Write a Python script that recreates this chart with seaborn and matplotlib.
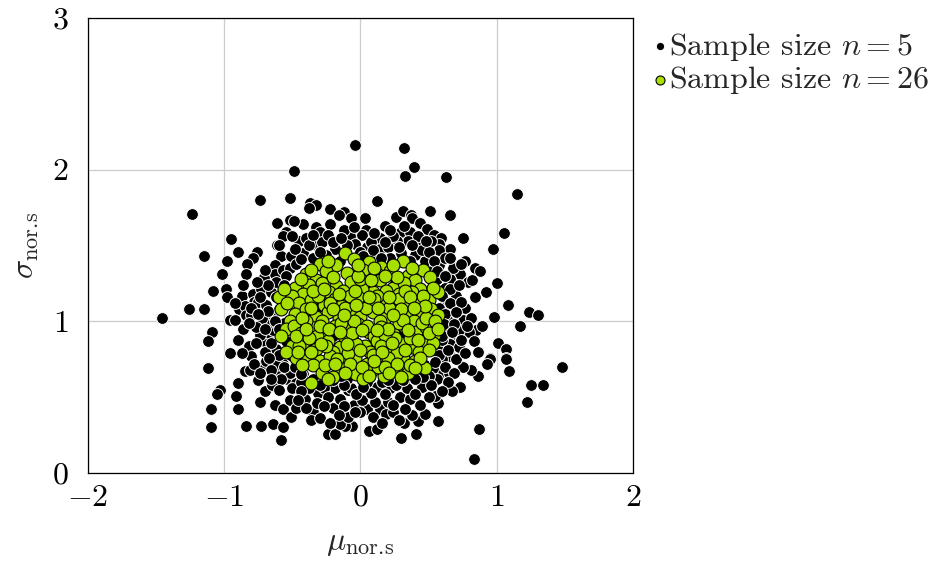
import matplotlib
matplotlib.use("Agg")
import matplotlib.pyplot as plt
import seaborn as sns
import pandas as pd

# ---- data (mu, sigma) ----
black_pts = [
    (-1.46,1.02),(-1.24,1.71),(-1.26,1.08),(-1.15,1.08),(-1.15,1.43),(-1.09,0.93),(-1.12,0.87),(-1.12,0.69),
    (-1.03,0.55),(-1.05,0.52),(-1.10,0.42),(-1.10,0.30),(-0.90,1.46),(-0.76,1.46),(-0.98,1.40),(-0.79,1.42),
    (-0.83,1.38),(-1.02,1.31),(-0.84,1.31),(-0.71,1.29),(-0.61,1.50),(-0.58,1.43),(-0.51,1.43),(-0.63,1.37),
    (-0.63,1.31),(-0.57,1.34),(-0.52,1.35),(-1.08,1.20),(-0.99,1.21),(-0.98,1.16),(-0.87,1.17),(-0.79,1.18),
    (-0.73,1.21),(-0.78,1.13),(-0.75,1.13),(-0.89,1.08),(-0.85,1.10),(-0.84,1.04),(-0.80,1.04),(-0.96,1.01),
    (-0.96,0.79),(-0.82,0.84),(-0.71,0.87),(-0.67,0.92),(-0.64,0.94),(-0.68,0.99),(-0.64,1.04),(-0.69,1.11),
    (-0.66,1.19),(-0.58,1.24),(-0.74,0.91),(-0.55,0.87),(-0.62,0.82),(-0.52,0.78),
    (-0.90,0.59),(-0.91,0.51),(-0.90,0.42),(-0.84,0.31),(-0.73,0.31),(-0.64,0.32),(-0.57,0.30),(-0.58,0.22),
    (-0.85,0.67),(-0.81,0.68),(-0.71,0.72),(-0.75,0.61),(-0.70,0.54),(-0.65,0.58),(-0.74,0.47),(-0.63,0.45),
    (-0.57,0.42),(-0.62,0.65),(-0.52,0.48),(-0.51,0.37),(-0.54,0.62),(-0.57,0.72),(-0.69,0.74),
    (-0.74,1.80),(-0.49,1.99),(-0.52,1.81),(-0.61,1.65),(-0.52,1.67),(-0.55,1.59),(-0.57,1.56),(-0.60,1.50),
    (-0.95,1.54),
    (-0.04,2.16),(0.32,2.14),(0.39,2.02),(0.33,1.96),(0.12,1.79),(-0.37,1.78),(-0.33,1.77),(-0.38,1.75),
    (-0.22,1.74),(-0.12,1.72),(-0.16,1.70),(-0.07,1.68),(0.03,1.68),(0.26,1.69),(0.31,1.73),(0.37,1.70),
    (0.38,1.68),(0.44,1.65),(0.49,1.61),(-0.42,1.64),(-0.49,1.66),(-0.33,1.62),(-0.22,1.64),(-0.30,1.59),
    (0.04,1.60),(0.01,1.57),(-0.08,1.56),(0.14,1.55),(0.30,1.59),(0.36,1.59),(0.35,1.53),(0.27,1.53),
    (0.44,1.51),(-0.45,1.53),(-0.33,1.50),(-0.04,1.51),(0.05,1.49),(0.14,1.48),(0.20,1.49),(-0.19,1.48),
    (0.51,1.73),
    (0.63,1.95),(1.15,1.84),(0.66,1.70),(0.75,1.55),(1.05,1.58),(0.97,1.48),(0.54,1.57),(0.59,1.55),
    (0.58,1.51),(0.66,1.48),(0.52,1.53),
    (0.77,1.40),(0.84,1.35),(0.88,1.33),(0.73,1.31),(0.79,1.26),(0.66,1.28),(1.00,1.25),(0.92,1.19),
    (0.62,1.22),(1.08,1.11),(1.24,1.06),(1.30,1.04),(0.77,1.09),(0.98,1.03),(1.17,0.97),(0.75,1.01),
    (0.68,1.04),(0.85,0.94),(0.80,0.93),(0.83,0.87),(1.01,0.86),(1.07,0.82),(0.95,0.76),(1.07,0.76),
    (0.72,0.94),(0.66,0.90),(0.61,0.94),(0.66,0.77),(0.58,1.37),(0.58,1.47),
    (1.48,0.70),(1.25,0.58),(1.34,0.58),(1.22,0.47),(1.07,0.75),(1.09,0.67),(0.95,0.75),(0.93,0.72),
    (0.86,0.64),(0.81,0.68),(0.75,0.70),(0.73,0.57),(0.67,0.54),(0.57,0.46),(0.57,0.34),(0.87,0.29),
    (0.83,0.09),(0.57,0.82),(0.60,0.75),(0.58,0.65),(0.53,0.69),(0.66,0.85),(0.65,0.66),(0.70,0.75),
    (0.55,0.51),
    (-0.24,0.26),(-0.19,0.26),(-0.06,0.31),(-0.11,0.31),(-0.15,0.32),(0.06,0.28),(0.12,0.29),(0.30,0.23),
    (0.41,0.26),(0.32,0.33),(0.42,0.34),(0.38,0.38),(0.47,0.39),(-0.47,0.43),(-0.35,0.40),(-0.36,0.35),
    (-0.09,0.37),(-0.20,0.43),(-0.05,0.45),(0.05,0.42),(0.14,0.42),(0.20,0.47),(0.11,0.47),(0.29,0.50),
    (0.36,0.49),(0.19,0.39),(-0.41,0.49),(-0.31,0.53),(-0.15,0.49),(0.01,0.48),(-0.09,0.55),(-0.19,0.56),
    (-0.27,0.56),(-0.38,0.56),(-0.47,0.59),(0.12,0.57),(0.22,0.56),(0.45,0.57),(0.36,0.61),(-0.52,0.66),
    (-0.42,0.65),(-0.27,0.64),(-0.20,0.61),(-0.07,0.56),(0.05,0.60),(0.29,0.65),(0.42,0.67),(0.47,0.71),
    (-0.42,1.45),(-0.35,1.42),(-0.25,1.44),(-0.15,1.40),(0.10,1.43),(0.22,1.42),(0.30,1.45),(0.40,1.44),
    (0.47,1.40),(-0.47,1.38),(0.52,1.33),(0.45,1.47),(-0.28,1.52),(0.08,1.52),(0.24,1.56),(-0.12,1.60),
    (-0.40,1.55),(0.18,1.63),(0.42,1.56),(-0.24,1.57),
    (-0.72,1.02),(-0.70,0.80),(-0.60,1.08),(-0.56,0.99),(-0.62,0.71),(-0.77,0.96),(-0.80,0.77),(-0.86,0.95),
    (-0.90,0.88),(-0.66,0.68),
    (0.62,1.12),(0.64,1.00),(0.70,1.17),(0.60,0.88),(0.72,0.83),(0.56,1.28),(0.55,1.20),(0.68,1.35),(0.62,1.42),
    (-0.32,0.46),(0.00,0.40),(0.24,0.40),(-0.45,0.74),(0.18,0.52),(-0.12,0.44),(0.34,0.56),(-0.30,0.70),
    (0.39,0.72),(-0.10,0.62),
    (0.00,1.00),(-0.20,0.90),(0.20,1.10),(0.10,0.80),(-0.10,1.20),(0.30,0.90),(-0.30,1.10),(0.25,1.25),(-0.35,0.85),
    # dense ring, top
    (-0.48,1.48),(-0.38,1.50),(-0.30,1.46),(-0.20,1.52),(-0.10,1.50),(0.00,1.46),(0.09,1.47),(0.18,1.52),
    (0.28,1.49),(0.38,1.50),(0.50,1.46),(-0.44,1.41),(-0.22,1.40),(0.02,1.43),(0.15,1.42),(0.36,1.40),
    (0.54,1.40),(-0.50,1.56),(-0.14,1.55),(0.10,1.58),(0.32,1.63),(-0.35,1.57),(0.48,1.53),(-0.05,1.62),
    (0.22,1.60),
    # dense ring, left
    (-0.55,1.30),(-0.62,1.26),(-0.68,1.24),(-0.56,1.24),(-0.74,1.16),(-0.62,1.16),(-0.56,1.12),(-0.68,1.07),
    (-0.80,1.09),(-0.63,1.00),(-0.75,1.05),(-0.60,0.95),(-0.70,0.95),(-0.82,0.99),(-0.58,0.90),(-0.66,0.86),
    (-0.77,0.86),(-0.60,0.78),(-0.67,0.76),(-0.78,0.72),(-0.56,0.70),(-0.48,0.70),(-0.58,0.62),(-0.66,0.62),
    (-0.50,0.56),(-0.44,0.60),(-0.60,0.55),(-0.74,0.66),(-0.87,0.79),(-0.92,1.01),(-0.92,1.12),(-0.86,1.24),
    (-0.76,1.26),(-0.70,1.34),
    # dense ring, right
    (0.56,1.33),(0.62,1.30),(0.66,1.21),(0.60,1.17),(0.72,1.24),(0.58,1.09),(0.66,1.12),(0.74,1.13),
    (0.62,1.05),(0.70,1.06),(0.81,1.02),(0.61,0.98),(0.69,0.98),(0.78,0.97),(0.60,0.90),(0.67,0.93),
    (0.74,0.88),(0.58,0.78),(0.64,0.81),(0.77,0.79),(0.55,0.73),(0.62,0.70),(0.69,0.66),(0.56,0.62),
    (0.64,0.60),(0.50,0.64),(0.52,0.58),(0.60,0.54),(0.86,0.80),(0.89,0.97),(0.84,1.16),(0.82,1.27),
    (0.74,1.38),(0.66,1.42),
    # dense ring, bottom
    (-0.44,0.54),(-0.35,0.62),(-0.30,0.58),(-0.24,0.50),(-0.12,0.58),(-0.03,0.52),(0.08,0.53),(0.16,0.60),
    (0.26,0.58),(0.31,0.61),(0.40,0.52),(0.46,0.63),(-0.40,0.43),(-0.27,0.44),(-0.04,0.40),(0.09,0.37),
    (0.24,0.45),(0.33,0.42),(0.44,0.45),(-0.16,0.38),(-0.30,0.36),(0.28,0.35),(-0.44,0.65),(0.02,0.57),
    (-0.14,0.64),(0.20,0.61),(0.40,0.62),(-0.46,0.48),(0.50,0.50),(-0.22,0.33),(0.16,0.33),
]

green_pts = [
    (-0.11,1.45),
    (-0.30,1.38),(0.31,1.40),(-0.18,1.37),(0.06,1.39),(0.15,1.36),(-0.05,1.41),
    (-0.40,1.31),(-0.25,1.33),(-0.10,1.32),(0.02,1.34),(0.12,1.31),(0.22,1.33),(0.35,1.30),(0.46,1.34),
    (-0.33,1.27),(0.40,1.27),
    (-0.48,1.22),(-0.38,1.24),(-0.28,1.25),(-0.18,1.23),(-0.07,1.26),(0.05,1.24),(0.14,1.27),(0.24,1.22),
    (0.32,1.25),(0.44,1.21),(0.51,1.29),(-0.52,1.17),(-0.13,1.20),(0.09,1.19),(0.28,1.18),(-0.42,1.18),
    (-0.23,1.19),(0.19,1.20),(0.38,1.19),(0.01,1.21),
    (-0.60,1.16),(-0.50,1.17),(-0.45,1.12),(-0.36,1.14),(-0.27,1.11),(-0.19,1.15),(-0.09,1.13),(-0.02,1.16),
    (0.07,1.12),(0.16,1.14),(0.23,1.11),(0.33,1.13),(0.42,1.12),(0.50,1.14),(0.57,1.19),(-0.31,1.17),
    (0.12,1.17),(0.28,1.15),(-0.14,1.10),(0.46,1.17),
    (-0.58,1.08),(-0.48,1.05),(-0.40,1.08),(-0.33,1.03),(-0.24,1.06),(-0.16,1.02),(-0.07,1.07),(0.00,1.03),
    (0.09,1.06),(0.18,1.02),(0.26,1.07),(0.35,1.04),(0.43,1.07),(0.52,1.08),(0.57,1.04),(-0.52,1.00),
    (-0.11,1.09),(0.04,1.09),(0.21,1.09),(0.39,1.00),(-0.28,1.00),(0.14,1.00),
    (-0.55,0.95),(-0.49,0.97),(-0.44,0.92),(-0.36,0.96),(-0.27,0.93),(-0.19,0.97),(-0.10,0.94),(-0.02,0.98),
    (0.06,0.93),(0.15,0.96),(0.24,0.92),(0.32,0.97),(0.41,0.93),(0.48,0.96),(0.54,0.91),(-0.32,0.90),
    (0.10,0.90),(0.28,0.99),(-0.14,0.99),(0.45,0.99),
    (-0.50,0.84),(-0.42,0.86),(-0.33,0.82),(-0.24,0.87),(-0.15,0.83),(-0.06,0.88),(0.03,0.84),(0.12,0.87),
    (0.20,0.82),(0.29,0.86),(0.38,0.83),(0.46,0.87),(0.53,0.86),(-0.38,0.89),(0.07,0.80),(0.25,0.89),
    (-0.20,0.80),(0.43,0.80),
    (-0.47,0.76),(-0.39,0.78),(-0.30,0.74),(-0.22,0.77),(-0.13,0.73),(-0.04,0.76),(0.05,0.72),(0.14,0.77),
    (0.22,0.73),(0.31,0.76),(0.40,0.74),(0.47,0.69),(-0.35,0.71),(0.09,0.78),(0.27,0.79),(-0.09,0.79),
    (-0.28,0.66),(-0.15,0.69),(-0.03,0.65),(0.08,0.67),(0.17,0.64),(0.26,0.68),(0.35,0.66),(-0.20,0.63),
    (0.02,0.62),(0.13,0.70),
    (-0.36,0.59),
    (-0.05,1.00),(0.05,0.97),(-0.12,0.90),(0.18,0.91),(-0.22,1.12),(0.30,1.08),(-0.03,0.85),(0.10,1.15),
    (-0.30,0.97),(0.36,0.89),(0.00,1.28),(-0.17,0.75),(0.20,0.76),(-0.40,1.00),(0.48,1.02),(-0.08,1.17),
    (0.15,0.84),(-0.25,0.84),(0.33,1.20),(-0.45,0.84),
    (-0.44,1.28),(-0.20,1.29),(-0.02,1.30),(0.08,1.27),(0.27,1.29),(0.18,1.30),
    (-0.24,1.40),(-0.02,1.37),(0.24,1.37),(0.38,1.35),(-0.36,1.34),(0.10,1.35),
    (-0.56,1.21),(-0.35,1.20),(-0.04,1.20),(0.21,1.16),(0.36,1.16),(0.53,1.22),(-0.27,1.21),(0.06,1.16),
    (-0.16,1.18),
    (-0.54,1.12),(-0.43,1.02),(-0.36,1.09),(-0.20,1.08),(-0.03,1.11),(0.13,1.09),(0.31,1.01),(0.47,1.10),
    (0.55,1.00),(-0.12,1.04),(0.24,1.04),(0.39,1.09),
    (-0.58,0.90),(-0.47,0.90),(-0.40,0.95),(-0.23,0.95),(-0.06,0.92),(0.01,0.94),(0.20,0.95),(0.35,0.94),
    (0.50,0.92),(0.57,0.95),(0.12,0.94),(-0.15,0.93),
    (-0.55,0.80),(-0.46,0.80),(-0.29,0.85),(-0.10,0.85),(0.00,0.81),(0.16,0.80),(0.33,0.81),(0.50,0.81),
    (0.42,0.88),(0.23,0.86),(-0.36,0.80),
    (-0.43,0.71),(-0.26,0.71),(-0.08,0.72),(0.01,0.70),(0.18,0.70),(0.36,0.71),(0.44,0.76),(-0.19,0.72),
    (0.27,0.72),(0.10,0.74),
    (-0.11,0.66),(0.21,0.66),(0.30,0.63),(-0.24,0.62),(0.06,0.64),(0.40,0.69),
]

black_mu, black_sigma = [p[0] for p in black_pts], [p[1] for p in black_pts]
green_mu, green_sigma = [p[0] for p in green_pts], [p[1] for p in green_pts]
labels = ["Sample size $n=5$", "Sample size $n=26$"]
x_ticks = [-2, -1, 0, 1, 2]
y_ticks = [0, 1, 2, 3]

# ---- style ----
sns.set_theme(style="white")
plt.rcParams["font.family"] = "serif"
plt.rcParams["font.serif"] = ["cmr10", "DejaVu Serif"]
plt.rcParams["mathtext.fontset"] = "cm"
plt.rcParams["axes.formatter.use_mathtext"] = True
plt.rcParams["axes.unicode_minus"] = True

FS = 23

fig = plt.figure(figsize=(9.38, 5.62), dpi=100)
ax = fig.add_axes([0.0938, 0.1584, 0.581, 0.8096])

df_b = pd.DataFrame({"mu": black_mu, "sigma": black_sigma})
df_g = pd.DataFrame({"mu": green_mu, "sigma": green_sigma})

sns.scatterplot(data=df_b, x="mu", y="sigma", ax=ax, color="black", s=72,
                edgecolor="white", linewidth=0.7, label=labels[0], zorder=3)
sns.scatterplot(data=df_g, x="mu", y="sigma", ax=ax, color="#a6df00", s=86,
                edgecolor="black", linewidth=0.8, label=labels[1], zorder=4)

ax.set_xlim(-2, 2)
ax.set_ylim(0, 3)
ax.set_xticks(x_ticks)
ax.set_yticks(y_ticks)
ax.set_xticklabels([f"${v}$" for v in x_ticks])
ax.set_yticklabels([f"${v}$" for v in y_ticks])
ax.grid(True, color="#cccccc", linewidth=0.9)
ax.set_axisbelow(True)
for sp in ax.spines.values():
    sp.set_color("black")
    sp.set_linewidth(0.9)
ax.tick_params(axis="both", direction="out", length=7, width=0.8, color="#b0b0b0",
               labelsize=FS, labelcolor="black")
ax.tick_params(axis="x", pad=1)
ax.tick_params(axis="y", pad=7)
ax.set_xlabel(r"$\mu_{\mathrm{nor.\!s}}$", fontsize=FS, labelpad=14)
ax.set_ylabel(r"$\sigma_{\mathrm{nor.\!s}}$", fontsize=FS, labelpad=8)

leg = ax.legend(loc="upper left", bbox_to_anchor=(1.005, 1.0), frameon=False,
                fontsize=FS, markerscale=0.7, handletextpad=-0.05, handlelength=0.7,
                labelspacing=0.05, borderaxespad=0.0)

fig.savefig("out.png", dpi=100)
